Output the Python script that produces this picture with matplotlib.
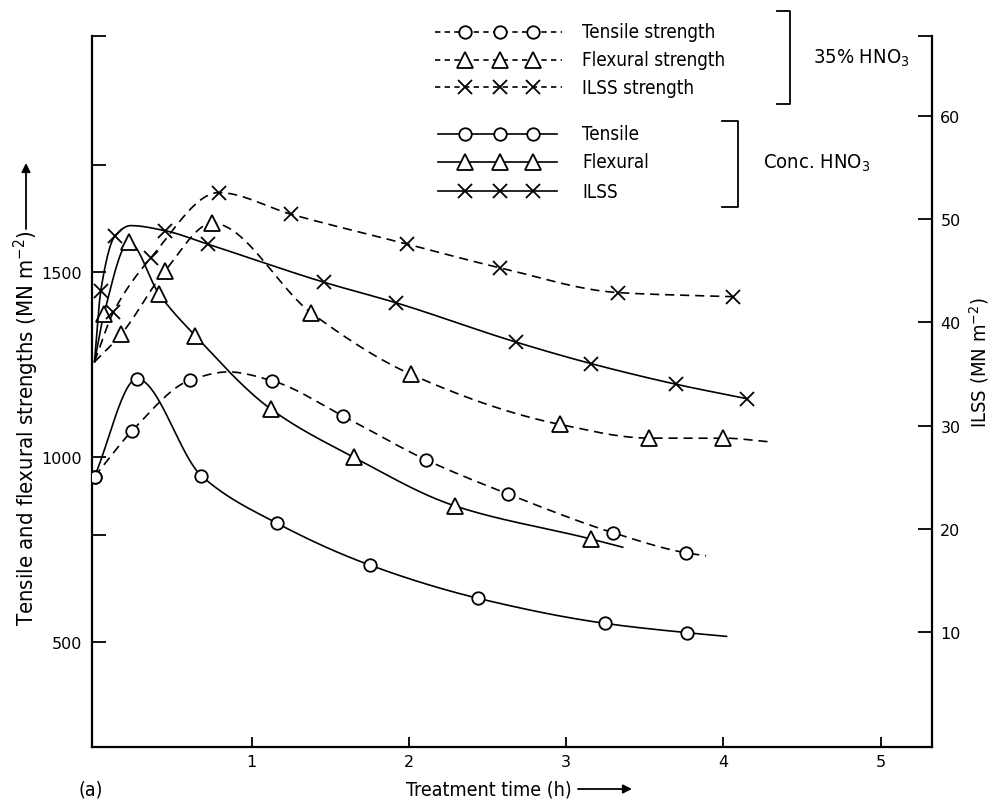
import numpy as np
import matplotlib
matplotlib.use('Agg')
import matplotlib.pyplot as plt

plt.rcParams['font.family'] = ['DejaVu Sans']
plt.rcParams['font.stretch'] = 'condensed'
plt.rcParams['mathtext.fontset'] = 'dejavusans'

# values: treatment time (h) vs strength (MN m-2)
# 35% HNO3 (dashed curves)
T_TEN_35 = [0.0, 0.24, 0.61, 1.13, 1.58, 2.11, 2.63, 3.30, 3.76]
V_TEN_35 = [947, 1071, 1208, 1206, 1111, 992, 900, 795, 741]
T_FLEX_35 = [0.17, 0.45, 0.75, 1.38, 2.01, 2.96, 3.53, 4.00]
V_FLEX_35 = [1332, 1504, 1632, 1389, 1224, 1088, 1051, 1051]
T_ILSS_35 = [0.12, 0.36, 0.79, 1.25, 1.99, 2.58, 3.33, 4.06]
V_ILSS_35 = [41.0, 46.3, 52.6, 50.5, 47.6, 45.3, 42.9, 42.5]

# conc. HNO3 (solid curves)
T_TEN_C = [0.0, 0.27, 0.68, 1.16, 1.75, 2.44, 3.25, 3.77]
V_TEN_C = [947, 1211, 949, 821, 708, 618, 550, 525]
T_FLEX_C = [0.06, 0.22, 0.41, 0.64, 1.12, 1.65, 2.29, 3.16]
V_FLEX_C = [1386, 1580, 1441, 1328, 1130, 999, 868, 778]
T_ILSS_C = [0.04, 0.13, 0.45, 0.72, 1.46, 1.92, 2.68, 3.16, 3.70, 4.15]
V_ILSS_C = [43.1, 48.4, 48.9, 47.6, 43.9, 41.9, 38.1, 36.0, 34.0, 32.6]

# points where the hand-drawn curves run without a marker (start, peak, end)
CT_TEN_35, CV_TEN_35 = [0.85, 3.89], [1230, 733]
CT_FLEX_35, CV_FLEX_35 = [0.0, 4.29], [1257, 1041]
CT_ILSS_35, CV_ILSS_35 = [0.0], [36.2]
CT_TEN_C, CV_TEN_C = [4.02], [515]
CT_FLEX_C, CV_FLEX_C = [0.0, 3.36], [1257, 756]
CT_ILSS_C, CV_ILSS_C = [0.0, 0.23], [36.2, 49.4]

LEFT_TICKS = [500, 790, 1000, 1500, 1790]
RIGHT_TICKS = [10, 20, 30, 40, 50, 60]
X_TICKS = [1, 2, 3, 4, 5]

LEG_35 = ['Tensile strength', 'Flexural strength', 'ILSS strength']
LEG_C = ['Tensile', 'Flexural', 'ILSS']


def smooth(t, v, ct, cv, n=400):
    x = np.array(list(t) + list(ct), float)
    y = np.array(list(v) + list(cv), float)
    o = np.argsort(x)
    x, y = x[o], y[o]
    h = np.diff(x)
    d = np.diff(y) / h
    m = np.zeros_like(y)
    m[0], m[-1] = d[0], d[-1]
    for k in range(1, len(x) - 1):
        if d[k - 1] * d[k] > 0:
            w1 = 2 * h[k] + h[k - 1]
            w2 = h[k] + 2 * h[k - 1]
            m[k] = (w1 + w2) / (w1 / d[k - 1] + w2 / d[k])
    xs = np.linspace(x[0], x[-1], n)
    i = np.clip(np.searchsorted(x, xs) - 1, 0, len(x) - 2)
    s = (xs - x[i]) / h[i]
    ys = ((2 * s**3 - 3 * s**2 + 1) * y[i] + (s**3 - 2 * s**2 + s) * h[i] * m[i]
          + (-2 * s**3 + 3 * s**2) * y[i + 1] + (s**3 - s**2) * h[i] * m[i + 1])
    return xs, ys


W, H = 993, 804
fig = plt.figure(figsize=(W / 100, H / 100), dpi=100)
ax = fig.add_axes([92 / W, 1 - 748 / H, 840 / W, 711 / H])
ax2 = ax.twinx()

DASH = (0, (5.5, 3.5))
LW = 1.2
mk = dict(ls='none', mfc='white', mec='k', mew=1.3, zorder=4)

series = [
    (ax, T_TEN_35, V_TEN_35, CT_TEN_35, CV_TEN_35, DASH, 'o', 9),
    (ax, T_FLEX_35, V_FLEX_35, CT_FLEX_35, CV_FLEX_35, DASH, '^', 11),
    (ax2, T_ILSS_35, V_ILSS_35, CT_ILSS_35, CV_ILSS_35, DASH, 'x', 10),
    (ax, T_TEN_C, V_TEN_C, CT_TEN_C, CV_TEN_C, '-', 'o', 9),
    (ax, T_FLEX_C, V_FLEX_C, CT_FLEX_C, CV_FLEX_C, '-', '^', 11),
    (ax2, T_ILSS_C, V_ILSS_C, CT_ILSS_C, CV_ILSS_C, '-', 'x', 10),
]
for a, t, v, ct, cv, ls, m, ms in series:
    xs, ys = smooth(t, v, ct, cv)
    a.plot(xs, ys, color='k', lw=LW, ls=ls, zorder=3)
    a.plot(t, v, marker=m, ms=ms, **mk)

ax.set_xlim(-0.016, 5.327)
ax.set_ylim(216, 2138)
ax2.set_ylim(-1.2, 67.8)

ax.spines['top'].set_visible(False)
ax.spines['right'].set_visible(False)
for s in ['top', 'left', 'bottom']:
    ax2.spines[s].set_visible(False)
for sp in [ax.spines['left'], ax.spines['bottom'], ax2.spines['right']]:
    sp.set_linewidth(1.6)

tick_font = dict(family='DejaVu Sans', stretch='normal', size=11.5)
ax.set_xticks(X_TICKS)
ax.set_xticklabels([str(x) for x in X_TICKS], **tick_font)
ax.set_yticks(LEFT_TICKS + [2138])
ax.set_yticklabels([str(v) if v % 500 == 0 else '' for v in LEFT_TICKS] + [''], **tick_font)
ax2.set_yticks(RIGHT_TICKS + [67.8])
ax2.set_yticklabels([str(v) for v in RIGHT_TICKS] + [''], **tick_font)
ax.tick_params(axis='x', direction='in', length=7, width=1.3, pad=5)
ax.tick_params(axis='y', direction='in', length=10, width=1.3, pad=7)
ax2.tick_params(axis='y', direction='in', length=10, width=1.3, pad=6)

# overlay in figure pixels for the labels, legend and brackets
ov = fig.add_axes([0, 0, 1, 1], zorder=10)
ov.set_xlim(0, W)
ov.set_ylim(H, 0)
ov.axis('off')

arrow = dict(arrowstyle='-|>', color='k', lw=1.3, mutation_scale=13, shrinkA=0, shrinkB=0)
ov.text(406, 790, 'Treatment time (h)', ha='left', va='center', fontsize=14)
ov.annotate('', xy=(632, 790), xytext=(578, 790), arrowprops=arrow)
ov.text(91, 790, '(a)', ha='center', va='center', fontsize=14)
ov.text(26, 626, r'Tensile and flexural strengths (MN m$^{-2}$)', rotation=90,
        ha='center', va='bottom', fontsize=15.8)
ov.annotate('', xy=(26, 164), xytext=(26, 230), arrowprops=arrow)
ov.text(979, 428, r'ILSS (MN m$^{-2}$)', rotation=90, ha='center', va='bottom', fontsize=14.5)

LDASH = (0, (3.2, 2.6))
leg_rows = [(LDASH, 'o', 9, LEG_35[0], 33, 435, 562), (LDASH, '^', 11, LEG_35[1], 61, 435, 562),
            (LDASH, 'x', 10, LEG_35[2], 88, 435, 562),
            ('-', 'o', 9, LEG_C[0], 135, 438, 557), ('-', '^', 11, LEG_C[1], 163, 438, 557),
            ('-', 'x', 10, LEG_C[2], 192, 438, 557)]
for ls, m, ms, lab, y, x0, x1 in leg_rows:
    ov.plot([x0, x1], [y, y], color='k', lw=LW, ls=ls)
    ov.plot([465, 500, 533], [y] * 3, ls='none', marker=m, ms=ms, mfc='white', mec='k', mew=1.3)
    ov.text(582, y, lab, ha='left', va='center', fontsize=13.5)

ov.plot([777, 790, 790, 777], [12, 12, 105, 105], color='k', lw=1.3)
ov.plot([722, 738, 738, 722], [122, 122, 208, 208], color='k', lw=1.3)
ov.text(813, 58, r'35% HNO$_3$', ha='left', va='center', fontsize=14.5)
ov.text(763, 163, r'Conc. HNO$_3$', ha='left', va='center', fontsize=14.5)

fig.savefig('out.png', dpi=100)
